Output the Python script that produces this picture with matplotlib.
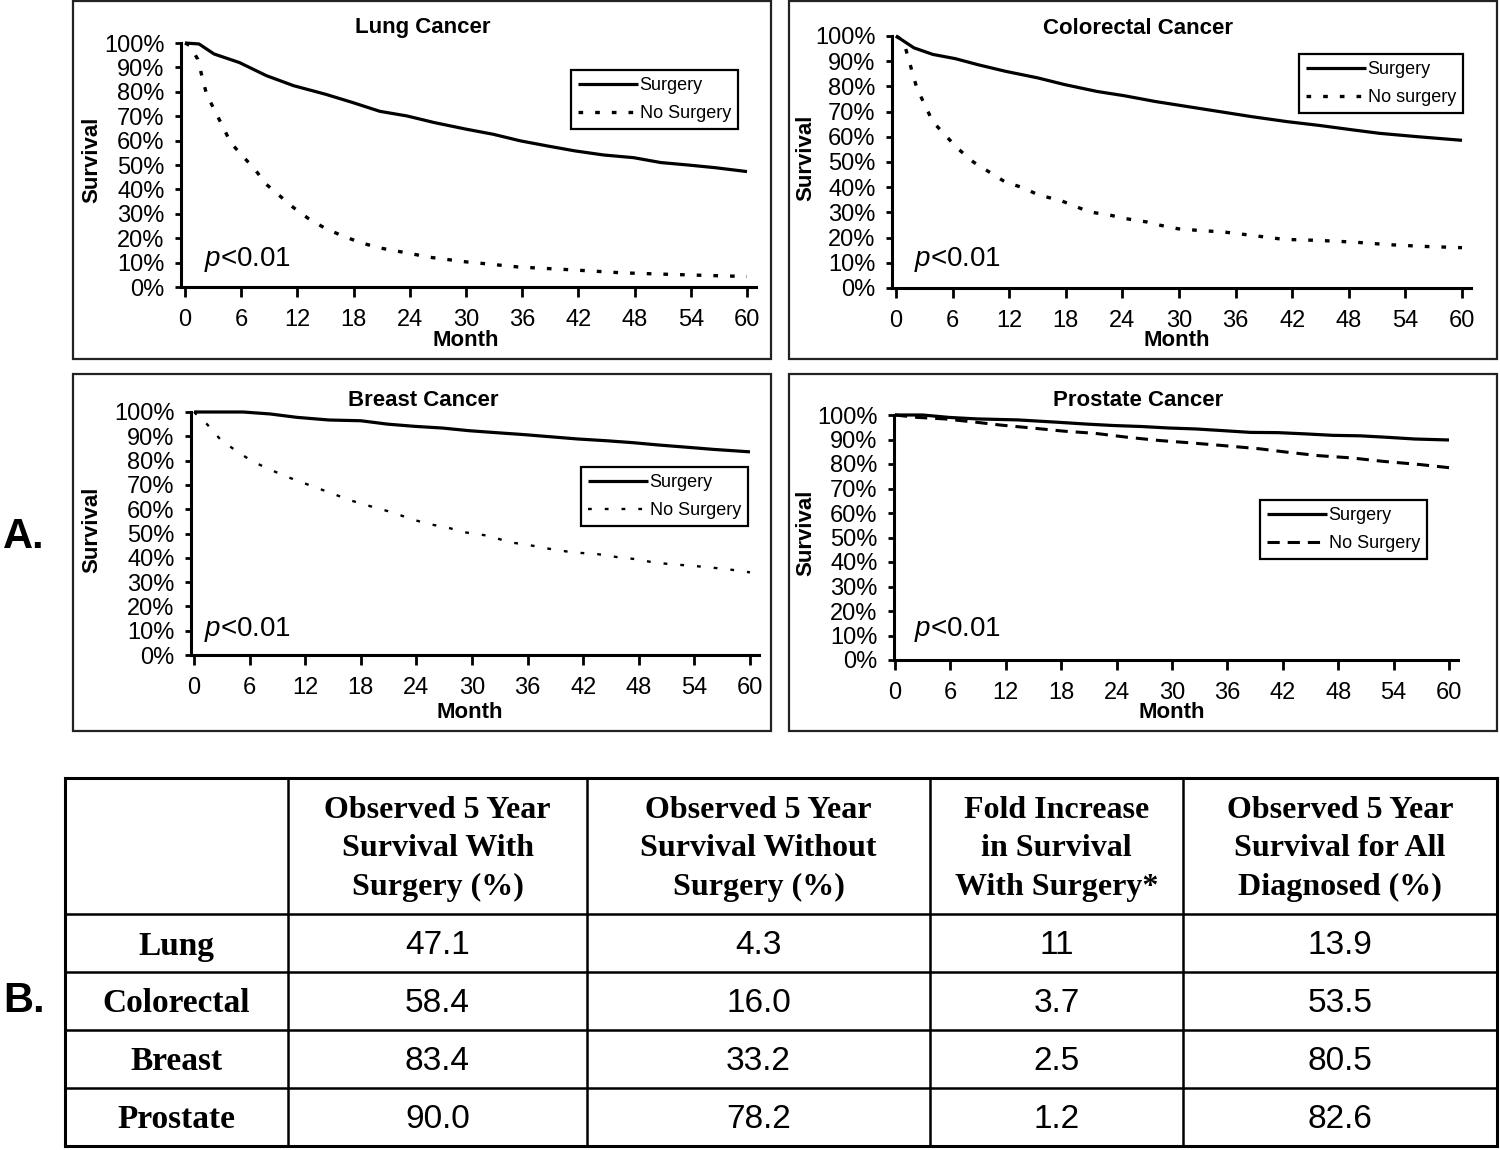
import matplotlib
matplotlib.use("Agg")
import matplotlib.pyplot as plt
from matplotlib.patches import Rectangle
from matplotlib.lines import Line2D
import numpy as np

plt.rcParams["font.family"] = ["Liberation Sans", "DejaVu Sans"]
plt.rcParams["mathtext.fontset"] = "custom"
plt.rcParams["mathtext.it"] = "Liberation Sans:italic"
plt.rcParams["mathtext.rm"] = "Liberation Sans"

W, H = 1500, 1150

# ---- survival curves (month, survival %) ----
lung_surg_m = [0, 1.5, 3.1, 5.8, 8.7, 11.6, 15, 17.9, 20.8, 23.7, 26.6, 30, 32.9, 35.8,
               38.7, 41.6, 44.7, 47.9, 50.8, 53.7, 56.6, 60]
lung_surg_s = [100, 99.6, 95.5, 92, 86.6, 82.5, 79, 75.6, 72, 70.1, 67.4, 64.7, 62.6, 59.9,
               57.8, 55.8, 54.1, 53, 51, 50, 48.9, 47.3]
lung_nosurg_m = [0, 0.5, 1.35, 2.3, 4.0, 4.9, 7.5, 8.7, 11.6, 13.3, 15, 16.9, 18.9, 20.8,
                 24.2, 26.1, 30, 31.9, 35.6, 41, 46.7, 50.8, 56, 60]
lung_nosurg_s = [100, 99, 93.4, 79, 66, 59, 48, 42, 32.5, 27.7, 24, 20.8, 18, 16,
                 13.6, 12.2, 10.3, 9.6, 8.2, 7.1, 5.8, 5.3, 4.7, 4.3]

colo_surg_m = [0, 1.9, 3.9, 6.3, 8.7, 11.6, 15, 17.9, 21.3, 24.2, 27.5, 30.9, 34.3, 37.7,
               41.5, 44.9, 48.3, 51.2, 55.1, 60]
colo_surg_s = [100, 95.3, 92.7, 91, 88.6, 86, 83.4, 80.7, 78, 76.3, 74, 72, 70, 68,
               66, 64.5, 62.8, 61.4, 60.1, 58.6]
colo_nosurg_m = [0, 0.4, 1, 2.2, 3.9, 6.5, 8.2, 11.6, 13.3, 15.2, 17.4, 20.5, 22.7, 24.4,
                 26.6, 28, 29.9, 31.9, 34.8, 37.7, 41.1, 44.7, 48.6, 52.2, 56, 60]
colo_nosurg_s = [100, 99, 95.3, 79.4, 66, 55.5, 50, 42, 40, 36.8, 34.8, 30.2, 28.9, 27.5,
                 26.2, 24.9, 23.5, 22.9, 22.2, 20.9, 19.3, 18.9, 18.2, 17.2, 16.5, 16.0]

breast_surg_m = [0, 5.3, 8.2, 11.1, 14.6, 18, 20.9, 23.8, 26.8, 29.7, 32.6, 35.6, 38.5,
                 41.4, 44.4, 47.3, 50.2, 53.2, 56.1, 60]
breast_surg_s = [100, 100, 99.2, 97.8, 96.7, 96.4, 95, 94.1, 93.4, 92.3, 91.5, 90.7, 89.8,
                 88.9, 88.2, 87.4, 86.4, 85.5, 84.6, 83.6]
breast_nosurg_m = [0, 1.4, 2.8, 4.5, 6.3, 8.2, 10.2, 12.1, 14.6, 17, 19.4, 21.4, 23.4, 25.3,
                   27.3, 29.2, 31.7, 34.1, 36.5, 38.5, 40.9, 43.4, 45.8, 47.8, 49.7, 51.7,
                   54.1, 57.1, 59, 60]
breast_nosurg_s = [100, 95, 88.9, 84.1, 79.7, 76.3, 73.1, 70.4, 66.9, 63.5, 60.8, 58.7, 56,
                   53.9, 52.5, 50.5, 49.1, 46.4, 45, 43.6, 42.2, 41.6, 40.2, 39.4, 38, 37.3,
                   36.6, 35.5, 34.6, 34.0]

pros_surg_m = [0, 3, 5.9, 8.9, 13.3, 17.8, 20.7, 23.7, 26.7, 29.6, 32.6, 35.6, 38.5, 41.5,
               44.4, 47.4, 50.4, 53.3, 56.3, 60]
pros_surg_s = [100, 100, 99, 98.4, 98, 97, 96.3, 95.7, 95.3, 94.7, 94.3, 93.6, 92.9, 92.8,
               92.3, 91.7, 91.5, 90.9, 90.2, 89.8]
pros_nosurg_m = [0, 2.5, 5.4, 8.9, 11.4, 14.8, 18.3, 21.7, 25.2, 28.6, 32.1, 35.6, 39.5,
                 42.5, 45.9, 49.4, 52.8, 56.8, 60]
pros_nosurg_s = [100, 99, 98.4, 97, 95.9, 94.7, 93.4, 92.5, 90.9, 89.6, 88.6, 87.5, 86.2,
                 84.8, 83.4, 82.5, 81.1, 79.8, 78.5]

# ---- table B ----
table_cols = ["Observed 5 Year\nSurvival With\nSurgery (%)",
              "Observed 5 Year\nSurvival Without\nSurgery (%)",
              "Fold Increase\nin Survival\nWith Surgery*",
              "Observed 5 Year\nSurvival for All\nDiagnosed (%)"]
table_rows = ["Lung", "Colorectal", "Breast", "Prostate"]
with_surgery = ["47.1", "58.4", "83.4", "90.0"]
without_surgery = ["4.3", "16.0", "33.2", "78.2"]
fold_increase = ["11", "3.7", "2.5", "1.2"]
all_diagnosed = ["13.9", "53.5", "80.5", "82.6"]


def fx(px):
    return px / W


def fy(py):
    return 1 - py / H


fig = plt.figure(figsize=(15, 11.5), dpi=100)

panels = [
    dict(title="Lung Cancer", box=(73, 1, 771, 359), x0=185, x60=747, y0=287, y100=43, xmin=-0.4,
         title_xy=(423, 28), surv_xy=(92, 160), month_xy=(466, 340), p_xy=(204, 260),
         leg_xy=(571, 70), labels=("Surgery", "No Surgery"),
         surg=(lung_surg_m, lung_surg_s), nosurg=(lung_nosurg_m, lung_nosurg_s),
         dash=(1.4, 3.6), nlw=2.4),
    dict(title="Colorectal Cancer", box=(789, 1, 1497, 359), x0=896, x60=1462, y0=288, y100=36,
         xmin=-0.4, title_xy=(1138, 28), surv_xy=(806, 158), month_xy=(1177, 340),
         p_xy=(914, 260), leg_xy=(1299, 54), labels=("Surgery", "No surgery"),
         surg=(colo_surg_m, colo_surg_s), nosurg=(colo_nosurg_m, colo_nosurg_s),
         dash=(1.4, 3.6), nlw=2.4),
    dict(title="Breast Cancer", box=(73, 374, 771, 731), x0=194, x60=750, y0=655, y100=412,
         xmin=-0.3, title_xy=(423, 400), surv_xy=(92, 530), month_xy=(470, 712),
         p_xy=(204, 629), leg_xy=(581, 467), labels=("Surgery", "No Surgery"),
         surg=(breast_surg_m, breast_surg_s), nosurg=(breast_nosurg_m, breast_nosurg_s),
         dash=(1.6, 5.5), nlw=1.7),
    dict(title="Prostate Cancer", box=(789, 374, 1497, 731), x0=895, x60=1449, y0=660, y100=415,
         xmin=-0.1, title_xy=(1138, 401), surv_xy=(806, 533), month_xy=(1172, 712),
         p_xy=(914, 629), leg_xy=(1260, 500), labels=("Surgery", "No Surgery"),
         surg=(pros_surg_m, pros_surg_s), nosurg=(pros_nosurg_m, pros_nosurg_s),
         dash=(4.0, 2.6), nlw=2.2),
]

for p in panels:
    bx0, by0, bx1, by1 = p["box"]
    fig.patches.append(Rectangle((fx(bx0), fy(by1)), (bx1 - bx0) / W, (by1 - by0) / H,
                                 transform=fig.transFigure, fill=False, lw=1.6,
                                 edgecolor="#222222"))

    ppm = (p["x60"] - p["x0"]) / 60.0
    left = p["x0"] + p["xmin"] * ppm
    right = p["x0"] + 61 * ppm
    ax = fig.add_axes([fx(left), fy(p["y0"]), (right - left) / W, (p["y0"] - p["y100"]) / H])
    ax.set_xlim(p["xmin"], 61)
    ax.set_ylim(0, 1)
    ax.patch.set_alpha(0)

    sm, ss = p["surg"]
    nm, ns = p["nosurg"]
    ax.plot(sm, np.array(ss) / 100, color="black", lw=2.3, solid_capstyle="butt",
            label=p["labels"][0], clip_on=False)
    ax.plot(nm, np.array(ns) / 100, color="black", lw=p["nlw"], linestyle=(0, p["dash"]),
            label=p["labels"][1], clip_on=False)

    for side in ["top", "right"]:
        ax.spines[side].set_visible(False)
    for side in ["left", "bottom"]:
        ax.spines[side].set_linewidth(2.2)

    ax.set_xticks(range(0, 61, 6))
    ax.set_yticks(np.arange(0, 1.01, 0.1))
    ax.set_yticklabels([f"{int(round(v * 100))}%" for v in np.arange(0, 1.01, 0.1)])
    ax.tick_params(axis="x", direction="out", length=7, width=2, labelsize=17, pad=9)
    ax.tick_params(axis="y", direction="out", length=4, width=2, labelsize=17, pad=8)

    fig.text(fx(p["title_xy"][0]), fy(p["title_xy"][1]), p["title"], ha="center",
             va="center", fontsize=16, fontweight="bold")
    fig.text(fx(p["surv_xy"][0]), fy(p["surv_xy"][1]), "Survival", ha="center",
             va="center", rotation=90, fontsize=16, fontweight="bold")
    fig.text(fx(p["month_xy"][0]), fy(p["month_xy"][1]), "Month", ha="center",
             va="center", fontsize=16, fontweight="bold")
    fig.text(fx(p["p_xy"][0]), fy(p["p_xy"][1]), r"$p$<0.01", ha="left", va="center",
             fontsize=20)

    leg = ax.legend(loc="upper left", bbox_to_anchor=(fx(p["leg_xy"][0]), fy(p["leg_xy"][1])),
                    bbox_transform=fig.transFigure, borderaxespad=0, fontsize=13,
                    handlelength=3.3, handletextpad=0.1, labelspacing=0.6,
                    borderpad=0.4, fancybox=False, framealpha=1, edgecolor="black")
    leg.get_frame().set_linewidth(1.6)

fig.text(fx(3), fy(537), "A.", ha="left", va="center", fontsize=30, fontweight="bold")
fig.text(fx(3), fy(1001), "B.", ha="left", va="center", fontsize=30, fontweight="bold")

# ---- table ----
col_edges = [65, 288, 587, 930, 1183, 1497]
row_edges = [778, 914, 972, 1030, 1088, 1146]
serif = ["Liberation Serif", "DejaVu Serif"]

for i, x in enumerate(col_edges):
    lw = 2.2 if i in (0, len(col_edges) - 1) else 1.8
    fig.add_artist(Line2D([fx(x), fx(x)], [fy(row_edges[0]), fy(row_edges[-1])],
                          color="black", lw=lw, transform=fig.transFigure))
for i, y in enumerate(row_edges):
    lw = 2.2 if i in (0, len(row_edges) - 1) else 1.8
    fig.add_artist(Line2D([fx(col_edges[0]), fx(col_edges[-1])], [fy(y), fy(y)],
                          color="black", lw=lw, transform=fig.transFigure))

for j, head in enumerate(table_cols):
    cx = (col_edges[j + 1] + col_edges[j + 2]) / 2
    cy = (row_edges[0] + row_edges[1]) / 2 + 3
    fig.text(fx(cx), fy(cy), head, ha="center", va="center", fontsize=23,
             fontweight="bold", family=serif, linespacing=1.42)

columns = [with_surgery, without_surgery, fold_increase, all_diagnosed]
for i, name in enumerate(table_rows):
    cy = (row_edges[i + 1] + row_edges[i + 2]) / 2 + 3
    fig.text(fx((col_edges[0] + col_edges[1]) / 2), fy(cy), name, ha="center", va="center",
             fontsize=24, fontweight="bold", family=serif)
    for j, col in enumerate(columns):
        cx = (col_edges[j + 1] + col_edges[j + 2]) / 2
        fig.text(fx(cx), fy(cy), col[i], ha="center", va="center", fontsize=24)

fig.savefig("out.png", dpi=100)
